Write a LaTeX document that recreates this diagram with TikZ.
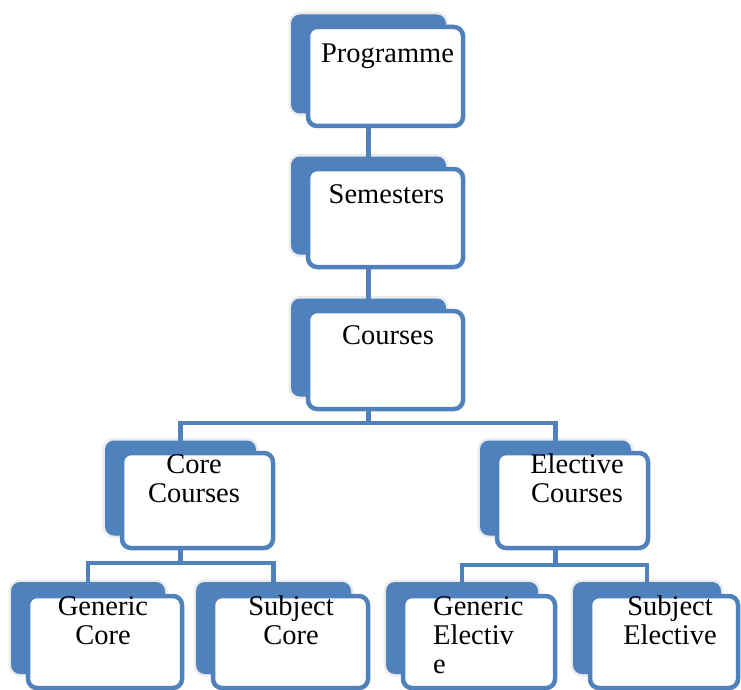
\documentclass[tikz,border=0pt]{standalone}
\usepackage{fontspec}
\setmainfont{Liberation Serif}
\usetikzlibrary{calc}
\definecolor{mblue}{RGB}{79,129,189}
\tikzset{
  backbox/.style={anchor=north west, fill=mblue, rounded corners=9pt, inner sep=0pt, outer sep=0pt,
    preaction={draw=black!8, line width=5pt}},
  frontbox/.style={anchor=north west, fill=white, draw=mblue, line width=4.5pt, rounded corners=9pt, inner sep=0pt, outer sep=0pt},
  lbl/.style={anchor=north, inner sep=0pt, font=\fontsize{28.5}{29}\selectfont, align=center},
  conn/.style={draw=mblue, line width=4.5pt},
}
\newcommand\tbox[6]{% name x y w h backdy
  \node[backbox, minimum width=#4pt, minimum height=#5pt] (#1B) at (#2-17, #3-#6) {};
  \node[frontbox, minimum width=#4pt, minimum height=#5pt] (#1) at (#2,#3) {};
}
\begin{document}
\begin{tikzpicture}[x=1pt,y=-1pt]
\useasboundingbox (0,0) rectangle (741,690);
\fill[white] (0,0) rectangle (741,690);
% boxes
\tbox{pg}{308}{27}{155}{99}{12.5}
\tbox{sm}{308}{169}{155}{98}{12.5}
\tbox{cs}{308}{311}{155}{98}{12.5}
\tbox{core}{122}{453}{151}{95}{12.5}
\tbox{el}{497}{453}{151}{95}{12.5}
\tbox{gc}{28}{596}{154}{92}{14}
\tbox{sc}{213}{596}{155}{92}{14}
\tbox{ge}{403}{596}{152}{92}{14}
\tbox{se}{590}{596}{148}{92}{14}
% labels
\node[lbl] (pgT) at (387.5,62-20.3) {\strut Programme};
\node[lbl] (smT) at (386.5,203-20.3) {\strut Semesters};
\node[lbl] (csT) at (388,344-20.3) {\strut Courses};
\node[lbl] (coreT) at (194,473-20.3) {\strut Core\\Courses};
\node[lbl] (elT) at (577,473-20.3) {\strut Elective\\Courses};
\node[lbl] (gcT) at (103,615-20.3) {\strut Generic\\Core};
\node[lbl] (scT) at (291,615-20.3) {\strut Subject\\Core};
\node[lbl, anchor=north west, align=left] (geT) at (433,615-20.3) {\strut Generic\\Electiv\\e};
\node[lbl] (seT) at (670,615-20.3) {\strut Subject\\Elective};
% connectors
\coordinate (j1) at (368.5,423);
\coordinate (j2) at (180.5,563);
\coordinate (j3) at (555.5,565);
\draw[conn] (pgB.center |- pg.south) -- (smB.north);
\draw[conn] (smB.center |- sm.south) -- (csB.north);
\draw[conn] (csB.center |- cs.south) -- (j1);
\draw[conn] (coreB.north) |- (j1) -| (elB.north);
\draw[conn] (coreB.center |- core.south) -- (j2);
\draw[conn] (gcB.north) |- (j2) -| (scB.north);
\draw[conn] (elB.center |- el.south) -- (j3);
\draw[conn] (geB.north) |- (j3) -| (seB.north);
\end{tikzpicture}
\end{document}
